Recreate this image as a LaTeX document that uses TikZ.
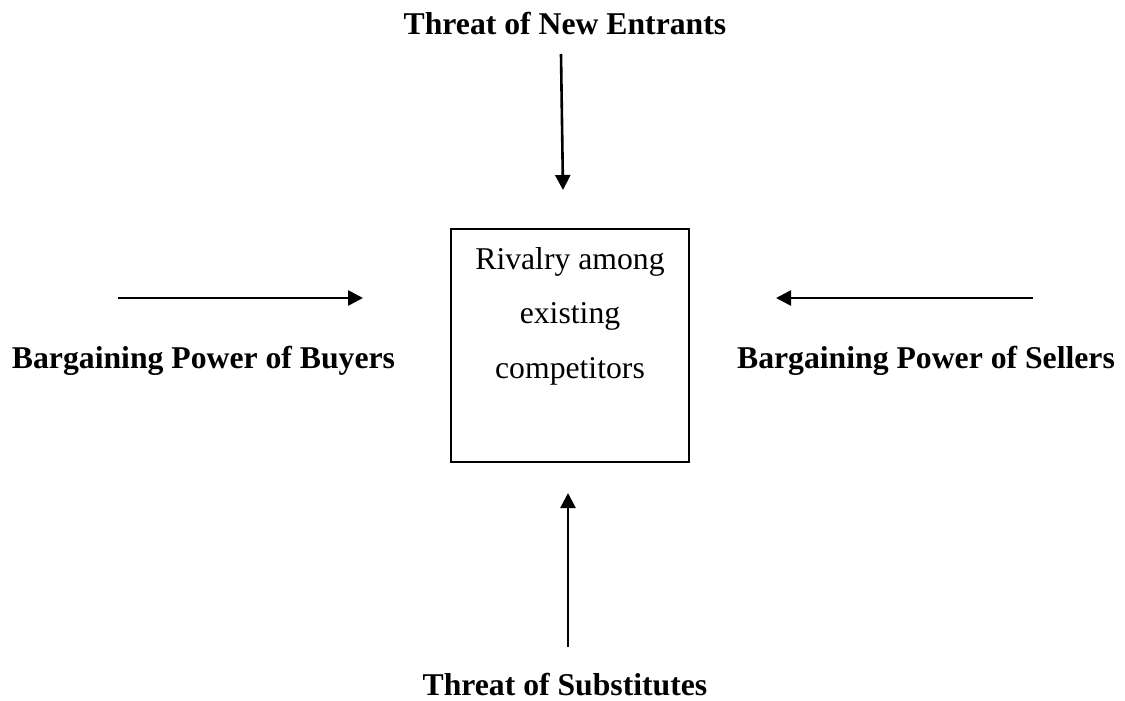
\documentclass[tikz,border=0pt]{standalone}
\usepackage{fontspec}
\setmainfont{Liberation Serif}
\usetikzlibrary{arrows.meta}
\begin{document}
\begin{tikzpicture}[x=1pt,y=-1pt,
  force/.style={font=\fontsize{31.7}{38}\selectfont\bfseries, inner sep=0pt, anchor=base},
  rivalrytext/.style={font=\fontsize{31.7}{54.5}\selectfont, align=center, inner sep=0pt, anchor=base},
  boxstyle/.style={draw=black, line width=1.8pt, minimum width=238pt, minimum height=233pt, inner sep=0pt},
  forcearrow/.style={line width=2.6pt, -{Triangle[length=15pt,width=15pt]}}]
\useasboundingbox (0,0) rectangle (1125,701);
% labels
\node[force] (entrants) at (565,35) {Threat of New Entrants};
\node[force] (buyers) at (203.5,368) {Bargaining Power of Buyers};
\node[force] (sellers) at (926,368) {Bargaining Power of Sellers};
\node[force] (substitutes) at (565,695) {Threat of Substitutes};
% central box
\node[boxstyle] (rivalry) at (570,345.5) {};
\node[rivalrytext] (rivalrylabel) at (570,378) {Rivalry among\\existing\\competitors};
% arrow end points
\coordinate (topA) at (561,54);
\coordinate (topB) at (563,190);
\coordinate (leftA) at (118,298);
\coordinate (leftB) at (363,298);
\coordinate (rightA) at (1033,298);
\coordinate (rightB) at (776,298);
\coordinate (botA) at (568,647);
\coordinate (botB) at (568,493);
% arrows
\draw[forcearrow] (topA) -- (topB);
\draw[forcearrow] (leftA) -- (leftB);
\draw[forcearrow] (rightA) -- (rightB);
\draw[forcearrow] (botA) -- (botB);
\end{tikzpicture}
\end{document}
